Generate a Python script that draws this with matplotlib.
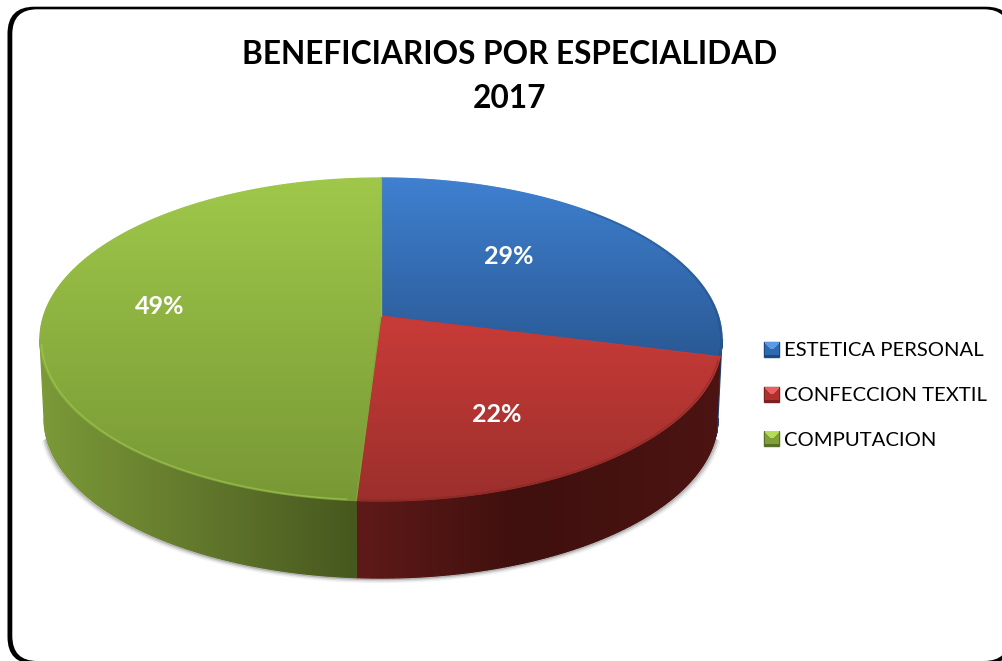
import numpy as np
import matplotlib
matplotlib.use("Agg")
import matplotlib.pyplot as plt
from matplotlib.patches import FancyBboxPatch, PathPatch, Rectangle
from matplotlib.path import Path
from matplotlib.collections import LineCollection
from matplotlib.colors import to_rgb

# ---------- data ----------
title_lines = ["BENEFICIARIOS POR ESPECIALIDAD", "2017"]
categories = ["ESTETICA PERSONAL", "CONFECCION TEXTIL", "COMPUTACION"]
values = [29, 22, 49]

# ---------- styles ----------
top_stops = [  # vertical gradient of the top face: (y px, colour)
    [(178, "#3f80d0"), (355, "#2a5a96")],
    [(316, "#c93b38"), (500, "#9c2f2c")],
    [(178, "#9fc84a"), (500, "#789835")],
]
side_stops = [  # horizontal gradient of the side face: (x px, colour)
    [(700, "#1f3f6c"), (725, "#1f3f6c")],
    [(355, "#5f1a18"), (520, "#3f100e"), (720, "#4c1412")],
    [(40, "#7b9a38"), (200, "#62782c"), (355, "#47581e")],
]
swatch_cols = [("#5b9be6", "#2f6ab0", "#1f4a80"),
               ("#e8605c", "#b0302e", "#7c2020"),
               ("#b4dc5a", "#7f9f38", "#56702a")]
label_px = [(509, 256), (497, 415), (160, 307)]

W, H = 1002, 661
CX, AY, CY = 381.0, 316.0, 340.0
A, B, K = 337.4, 112.1, -0.1455   # perspective of the disc
DROP, SHRINK = 79.0, 0.988        # extrusion

plt.rcParams["font.family"] = ["Lato", "DejaVu Sans"]
fig = plt.figure(figsize=(W / 100, H / 100), dpi=100)
ax = fig.add_axes([0, 0, 1, 1])
ax.set_xlim(0, W)
ax.set_ylim(H, 0)
ax.axis("off")


def disc(frac, r=1.0):
    """Map pie fraction (clockwise from 12 o'clock) to picture coordinates."""
    t = 2 * np.pi * np.asarray(frac)
    u, v = r * np.sin(t), -r * np.cos(t)
    d = 1 + K * v
    return CX + A * u / d, (B * v + AY) / d


def lower(x, y):
    return CX + SHRINK * (x - CX), CY + SHRINK * (y - CY) + DROP


def ramp(stops, q):
    pos = [s[0] for s in stops]
    cols = np.array([to_rgb(s[1]) for s in stops])
    return np.stack([np.interp(q, pos, cols[:, i]) for i in range(3)], axis=-1)


def fill_gradient(xs, ys, stops, axis, z):
    verts = np.column_stack([xs, ys])
    codes = [Path.MOVETO] + [Path.LINETO] * (len(xs) - 1)
    patch = PathPatch(Path(verts, codes), fc="none", ec="none", transform=ax.transData)
    ax.add_patch(patch)
    x0, x1, y0, y1 = xs.min(), xs.max(), ys.min(), ys.max()
    if axis == "y":
        img = ramp(stops, np.linspace(y0, y1, 256))[:, None, :]
    else:
        img = ramp(stops, np.linspace(x0, x1, 512))[None, :, :]
    im = ax.imshow(img, extent=(x0, x1, y1, y0), aspect="auto", zorder=z,
                   interpolation="bilinear")
    im.set_clip_path(patch)
    # anti-aliased outline, same gradient
    pts = verts[:, None, :]
    segs = np.concatenate([pts[:-1], pts[1:]], axis=1)
    mid = segs.mean(axis=1)[:, 0 if axis == "x" else 1]
    ax.add_collection(LineCollection(segs, colors=ramp(stops, mid), linewidths=0.9,
                                     zorder=z + 0.1, capstyle="round"))


edges = np.concatenate([[0], np.cumsum(values)]) / np.sum(values)

# the wall is seen between the two silhouette points of the disc
vis_from = np.arccos(K) / (2 * np.pi)
vis_to = 1 - vis_from

# white chart area with its black frame, thicker on the left
outer = FancyBboxPatch((7.5, 6.7), 1005.5, 657.3, boxstyle="round,pad=0,rounding_size=27",
                       fc="black", ec="none", zorder=0)
inner = FancyBboxPatch((12.3, 9.3), 996.7, 651.7, boxstyle="round,pad=0,rounding_size=25",
                       fc="white", ec="none", zorder=0.1)
ax.add_patch(outer)
ax.add_patch(inner)

# soft shadow under the side wall
fr = np.linspace(vis_from + 0.02, vis_to - 0.02, 300)
xs, ys = lower(*disc(fr))
for off, alpha, lw in [(3.0, 0.08, 3.0), (2.0, 0.16, 2.2), (1.0, 0.28, 1.6)]:
    ax.plot(xs + (xs - CX) / 341 * off, ys + off, color="#555555", alpha=alpha, lw=lw,
            zorder=1, solid_capstyle="round")

# side walls (visible arc only)
for i in range(3):
    lo, hi = max(edges[i], vis_from), min(edges[i + 1], vis_to)
    if hi <= lo:
        continue
    f = np.linspace(lo, hi, 240)
    tx, ty = disc(f)
    bx, by = lower(tx, ty)
    fill_gradient(np.r_[tx, bx[::-1], tx[0]], np.r_[ty, by[::-1], ty[0]],
                  side_stops[i], "x", 2 + i * 0.2)

# top faces
for i in range(3):
    f = np.linspace(edges[i], edges[i + 1], 300)
    tx, ty = disc(f)
    fill_gradient(np.r_[CX, tx, CX], np.r_[AY, ty, AY], top_stops[i], "y", 4 + i * 0.2)

# bevel along the rim of the top faces
f = np.linspace(edges[2] + 0.004, vis_to - 0.005, 200)
ax.plot(*disc(f, 0.996), color="#a4cc52", lw=1.1, alpha=0.6, zorder=5)
f = np.linspace(0.12, edges[1] - 0.002, 120)
ax.plot(*disc(f, 0.997), color="#1d4372", lw=1.2, alpha=0.35, zorder=5)
f = np.linspace(edges[1] + 0.004, edges[2] - 0.002, 120)
ax.plot(*disc(f, 0.997), color="#7d2422", lw=1.2, alpha=0.45, zorder=5)

# percentage labels
for v, (lx, ly) in zip(values, label_px):
    ax.text(lx, ly, f"{v}%", color="white", fontsize=18, fontweight="bold",
            ha="center", va="center", zorder=6)

# title
for line, y in zip(title_lines, (54, 98)):
    ax.text(510, y, line, color="black", fontsize=22.75, fontweight="bold",
            ha="center", va="center", zorder=6)

# legend
handles = [Rectangle((0, 0), 1, 1, fc=c[1], ec=c[2]) for c in swatch_cols]
leg = ax.legend(handles, categories, loc="upper left",
                bbox_to_anchor=(764, 342), bbox_transform=ax.transData,
                frameon=False, fontsize=14.6, handlelength=0.74, handleheight=0.74,
                handletextpad=0.26, labelspacing=1.35, borderpad=0, borderaxespad=0,
                labelcolor="black")
leg.set_zorder(8)
fig.canvas.draw()
inv = ax.transData.inverted()
for h, cols in zip(leg.get_patches(), swatch_cols):
    (x0, y0), (x1, y1) = inv.transform(h.get_window_extent())
    n = 15
    g = np.linspace(-1, 1, n)
    px, py = np.meshgrid(g, g)
    img = np.empty((n, n, 3))
    img[:] = to_rgb(cols[1])
    img[(py < 0) & (np.abs(px) <= -py)] = to_rgb(cols[0])
    img[(py > 0.8) | (np.abs(px) > 0.9)] = to_rgb(cols[2])
    ax.imshow(img, extent=(x0, x1, y0, y1), aspect="auto", zorder=9,
              interpolation="nearest")
ax.set_xlim(0, W)
ax.set_ylim(H, 0)

fig.savefig("out.png", dpi=100)
